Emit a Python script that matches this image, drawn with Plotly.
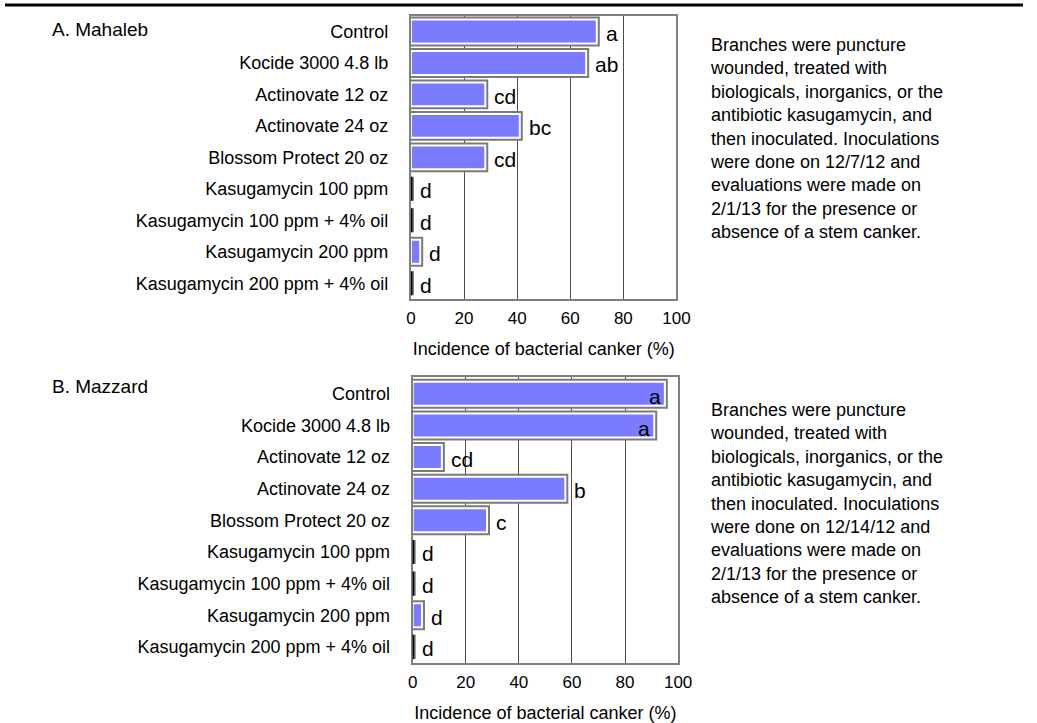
import plotly.graph_objects as go

categories = [
    "Control",
    "Kocide 3000 4.8 lb",
    "Actinovate 12 oz",
    "Actinovate 24 oz",
    "Blossom Protect 20 oz",
    "Kasugamycin 100 ppm",
    "Kasugamycin 100 ppm + 4% oil",
    "Kasugamycin 200 ppm",
    "Kasugamycin 200 ppm + 4% oil",
]
mahaleb_values = [70, 66, 28, 41, 28, 0, 0, 3.5, 0]
mahaleb_letters = ["a", "ab", "cd", "bc", "cd", "d", "d", "d", "d"]
mazzard_values = [95, 91, 11, 57.5, 28, 0, 0, 3.5, 0]
mazzard_letters = ["a", "a", "cd", "b", "c", "d", "d", "d", "d"]
x_ticks = [0, 20, 40, 60, 80, 100]
x_title = "Incidence of bacterial canker (%)"
panel_titles = ["A. Mahaleb", "B. Mazzard"]
notes = [
    "Branches were puncture<br>wounded, treated with<br>biologicals, inorganics, or the<br>"
    "antibiotic kasugamycin, and<br>then inoculated. Inoculations<br>were done on 12/7/12 and<br>"
    "evaluations were made on<br>2/1/13 for the presence or<br>absence of a stem canker.",
    "Branches were puncture<br>wounded, treated with<br>biologicals, inorganics, or the<br>"
    "antibiotic kasugamycin, and<br>then inoculated. Inoculations<br>were done on 12/14/12 and<br>"
    "evaluations were made on<br>2/1/13 for the presence or<br>absence of a stem canker.",
]

W, H = 1037, 723
FONT = "Arial, Liberation Sans, sans-serif"
BAR_COLOR = "#7b7bff"

fig = go.Figure()

panels = [
    dict(values=mahaleb_values, letters=mahaleb_letters, xa="x", ya="y",
         xdom=(413.5, 684), ydom=(15.7, 299), title_y=29.5, note_top=33),
    dict(values=mazzard_values, letters=mazzard_letters, xa="x2", ya="y2",
         xdom=(415.3, 685.7), ydom=(377.3, 662.7), title_y=386, note_top=398),
]

annotations = []
shapes = []
for k, p in enumerate(panels):
    # shadow / outline
    fig.add_trace(go.Bar(
        x=p["values"], y=categories, orientation="h", xaxis=p["xa"], yaxis=p["ya"],
        width=0.76, marker=dict(color="white", line=dict(color="#7a7a7a", width=6)),
        showlegend=False, hoverinfo="skip",
    ))
    fig.add_trace(go.Bar(
        x=p["values"], y=categories, orientation="h", xaxis=p["xa"], yaxis=p["ya"],
        width=0.76, marker=dict(color=BAR_COLOR, line=dict(color="white", width=2)),
        showlegend=False,
    ))
    for i, (v, lab) in enumerate(zip(p["values"], p["letters"])):
        if v > 85:
            annotations.append(dict(x=v, y=categories[i], xref=p["xa"], yref=p["ya"],
                                    text=lab, showarrow=False, xanchor="right", xshift=-2, yshift=-3,
                                    font=dict(family=FONT, size=21, color="black")))
        else:
            annotations.append(dict(x=v, y=categories[i], xref=p["xa"], yref=p["ya"],
                                    text=lab, showarrow=False, xanchor="left", xshift=7, yshift=-2,
                                    font=dict(family=FONT, size=21, color="black")))
        if v == 0:
            shapes.append(dict(type="line", xref=p["xa"], yref=p["ya"], x0=0, x1=0,
                               y0=i - 0.38, y1=i + 0.38, line=dict(color="black", width=3)))

    xd = [p["xdom"][0] / W, p["xdom"][1] / W]
    yd = [1 - p["ydom"][1] / H, 1 - p["ydom"][0] / H]
    axis_x = dict(domain=xd, range=[0, 100], tickvals=x_ticks, ticks="", showgrid=True,
                  gridcolor="#4d4d4d", gridwidth=1, showline=True, linecolor="#7f7f7f",
                  linewidth=2, mirror=True, zeroline=False, ticklabelstandoff=3,
                  tickfont=dict(family=FONT, size=17, color="black"),
                  title=dict(text=x_title, font=dict(family=FONT, size=18, color="black"),
                             standoff=15),
                  anchor=p["ya"], fixedrange=True)
    axis_y = dict(domain=yd, categoryorder="array", categoryarray=categories,
                  autorange="reversed", ticks="", showline=True, linecolor="#7f7f7f",
                  linewidth=2, mirror=True, showgrid=False, ticklabelstandoff=17,
                  tickfont=dict(family=FONT, size=18, color="black"),
                  anchor=p["xa"], fixedrange=True)
    if k == 0:
        fig.update_layout(xaxis=axis_x, yaxis=axis_y)
    else:
        fig.update_layout(xaxis2=axis_x, yaxis2=axis_y)

    annotations.append(dict(x=46 / W, y=1 - p["title_y"] / H, xref="paper", yref="paper",
                            text=panel_titles[k], showarrow=False, xanchor="left", yanchor="middle",
                            font=dict(family=FONT, size=19, color="black")))
    annotations.append(dict(x=716 / W, y=1 - p["note_top"] / H, xref="paper", yref="paper",
                            text=notes[k], showarrow=False, xanchor="left", yanchor="top",
                            align="left", font=dict(family=FONT, size=18, color="black")))

shapes.append(dict(type="line", xref="paper", yref="paper", x0=0, x1=1,
                   y0=1 - 5 / H, y1=1 - 5 / H, line=dict(color="black", width=3)))

fig.update_layout(
    width=W, height=H, margin=dict(l=0, r=0, t=0, b=0),
    paper_bgcolor="white", plot_bgcolor="white",
    barmode="overlay", annotations=annotations, shapes=shapes,
    font=dict(family=FONT, color="black"),
)

fig.write_html(
    "out.html",
    config={"displayModeBar": False, "staticPlot": True},
    post_script="document.documentElement.style.margin='0';document.documentElement.style.overflow='hidden';"
                "document.body.style.margin='0';document.body.style.overflow='hidden';",
)
